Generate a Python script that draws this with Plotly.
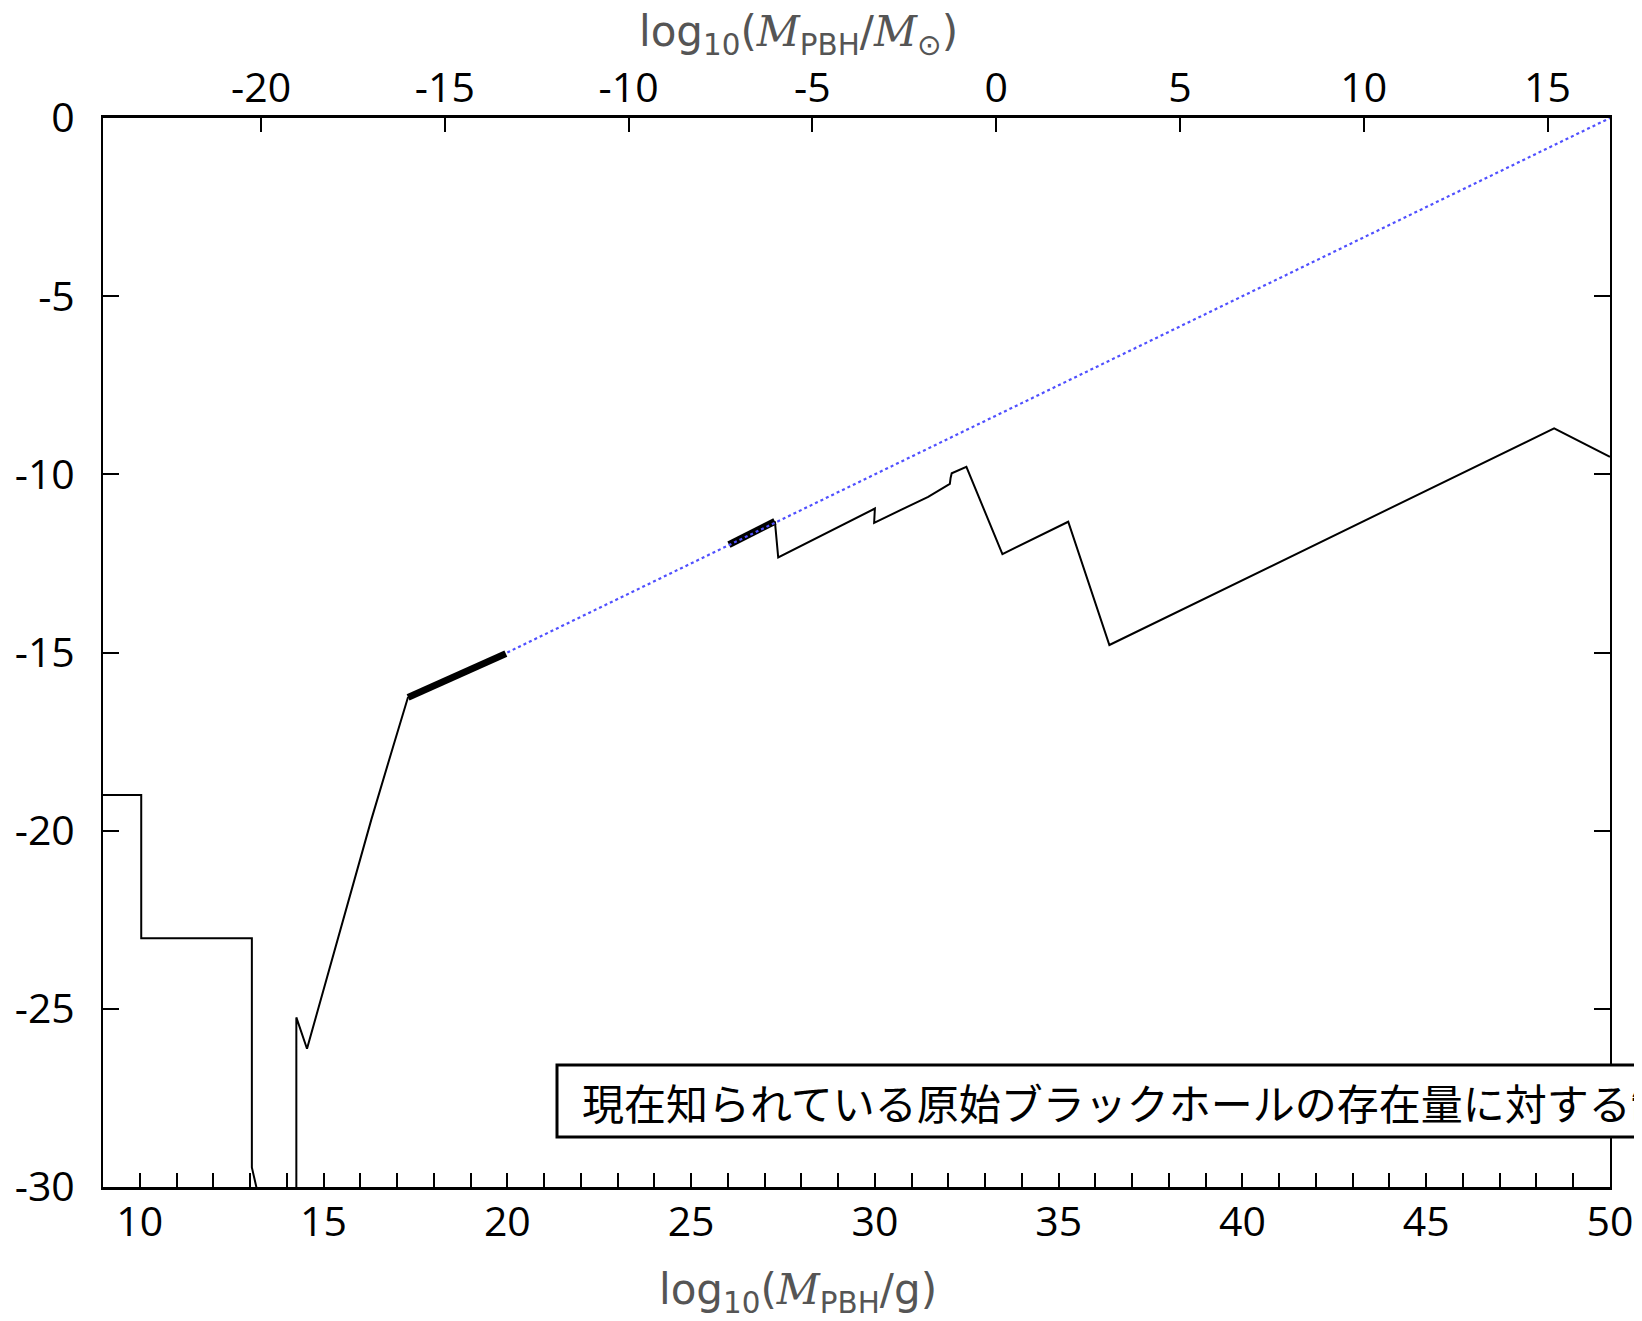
import plotly.graph_objects as go

# Current constraint on PBH abundance (thin black line), lower-mass part
lim1_x = [9.0, 10.04, 10.04, 13.05, 13.05, 13.17, 13.35, 14.26, 14.26, 14.55, 16.30, 16.89, 17.30]
lim1_y = [-19.0, -19.0, -23.02, -23.02, -29.45, -30.01, -30.8, -30.8, -25.24, -26.12, -19.69, -17.65, -16.25]

# thick segments
thick1_x = [17.30, 19.96]
thick1_y = [-16.26, -15.03]
thick2_x = [26.03, 27.28]
thick2_y = [-11.97, -11.32]

# higher-mass part of the constraint
lim2_x = [27.28, 27.37, 30.00, 29.98, 31.45, 32.04, 32.06, 32.09, 32.49, 33.47, 35.26, 36.38, 48.48, 50.0]
lim2_y = [-11.32, -12.33, -10.96, -11.36, -10.63, -10.27, -10.10, -9.97, -9.79, -12.24, -11.33, -14.79, -8.71, -9.51]

# blue dotted line
blue_x = [20.0, 50.0]
blue_y = [-15.0, 0.0]

# tick definitions
xb_vals = [10, 15, 20, 25, 30, 35, 40, 45, 50]
xb_text = ["10", "15", "20", "25", "30", "35", "40", "45", "50"]
xt_vals = [-20, -15, -10, -5, 0, 5, 10, 15]
xt_text = ["-20", "-15", "-10", "-5", "0", "5", "10", "15"]
y_vals = [0, -5, -10, -15, -20, -25, -30]
y_text = ["0", "-5", "-10", "-15", "-20", "-25", "-30"]

LOG_MSUN = 33.3
X_RANGE = [9, 50]

legend_text = "現在知られている原始ブラックホールの存在量に対する制限"

tick_font = dict(family="Open Sans, sans-serif", size=41, color="black")

fig = go.Figure()
fig.add_trace(go.Scatter(x=lim1_x, y=lim1_y, mode="lines",
                         line=dict(color="black", width=2), hoverinfo="skip", showlegend=False))
fig.add_trace(go.Scatter(x=thick1_x, y=thick1_y, mode="lines",
                         line=dict(color="black", width=7), hoverinfo="skip", showlegend=False))
fig.add_trace(go.Scatter(x=thick2_x, y=thick2_y, mode="lines",
                         line=dict(color="black", width=7), hoverinfo="skip", showlegend=False))
fig.add_trace(go.Scatter(x=lim2_x, y=lim2_y, mode="lines",
                         line=dict(color="black", width=2), hoverinfo="skip", showlegend=False))
fig.add_trace(go.Scatter(x=blue_x, y=blue_y, mode="lines",
                         line=dict(color="#5050ff", width=2.2, dash="dot"), hoverinfo="skip", showlegend=False))
# register top axis
fig.add_trace(go.Scatter(x=[None], y=[None], xaxis="x2", yaxis="y", mode="lines",
                         hoverinfo="skip", showlegend=False))

# page body has an 8px margin; size the figure so that page fits the window
OFF = 8
W, H = 1642 - OFF, 1321 - OFF  # 1634 x 1313
L, R, T, B = 95, 32, 110, 134
pw = W - L - R
ph = H - T - B

def px(xp):
    # xp: horizontal position in window pixels
    return (xp - OFF - L) / pw

def py(yp):
    # yp: vertical position in window pixels
    return (H - B - (yp - OFF)) / ph

fig.update_layout(
    width=W, height=H,
    margin=dict(l=L, r=R, t=T, b=B, autoexpand=False),
    paper_bgcolor="white", plot_bgcolor="white",
    showlegend=False,
    xaxis=dict(range=X_RANGE, tickvals=xb_vals, ticktext=xb_text,
               ticks="inside", ticklen=14, tickwidth=1.5, tickcolor="black",
               minor=dict(dtick=1, ticks="inside", ticklen=14, tickwidth=1.5, tickcolor="black"),
               showline=True, linecolor="black", linewidth=3, mirror=False,
               showgrid=False, zeroline=False, tickfont=tick_font, ticklabelstandoff=-3),
    xaxis2=dict(range=[X_RANGE[0] - LOG_MSUN, X_RANGE[1] - LOG_MSUN], overlaying="x", side="top",
                anchor="y", tickvals=xt_vals, ticktext=xt_text,
                ticks="inside", ticklen=14, tickwidth=1.5, tickcolor="black",
                showline=True, linecolor="black", linewidth=3,
                showgrid=False, zeroline=False, tickfont=tick_font, ticklabelstandoff=-3),
    yaxis=dict(range=[-30, 0], tickvals=y_vals, ticktext=y_text,
               ticks="inside", ticklen=16, tickwidth=1.5, tickcolor="black",
               showline=True, linecolor="black", linewidth=2, mirror="ticks",
               showgrid=False, zeroline=False, tickfont=tick_font, ticklabelstandoff=18),
)

title_font = dict(family="DejaVu Sans, sans-serif", size=42, color="#555555")
top_title = ('log<sub>10</sub>(<span style="font-family:DejaVu Serif;font-style:italic">M</span>'
             '<sub>PBH</sub>/<span style="font-family:DejaVu Serif;font-style:italic">M</span><sub>⊙</sub>)')
bot_title = ('log<sub>10</sub>(<span style="font-family:DejaVu Serif;font-style:italic">M</span>'
             '<sub>PBH</sub>/g)')

fig.add_annotation(text=top_title, xref="paper", yref="paper", x=px(798), y=py(34),
                   xanchor="center", yanchor="middle", showarrow=False, font=title_font)
fig.add_annotation(text=bot_title, xref="paper", yref="paper", x=px(798), y=py(1292),
                   xanchor="center", yanchor="middle", showarrow=False, font=title_font)

# legend box
fig.add_shape(type="rect", xref="paper", yref="paper",
              x0=px(557), x1=px(1720), y0=py(1137), y1=py(1065),
              fillcolor="white", line=dict(color="black", width=3), layer="above")
fig.add_annotation(text=legend_text, xref="paper", yref="paper", x=px(580), y=py(1101),
                   xanchor="left", yanchor="middle", showarrow=False,
                   font=dict(family="Noto Sans CJK JP", size=42, color="black"))

fig.write_html("out.html")
